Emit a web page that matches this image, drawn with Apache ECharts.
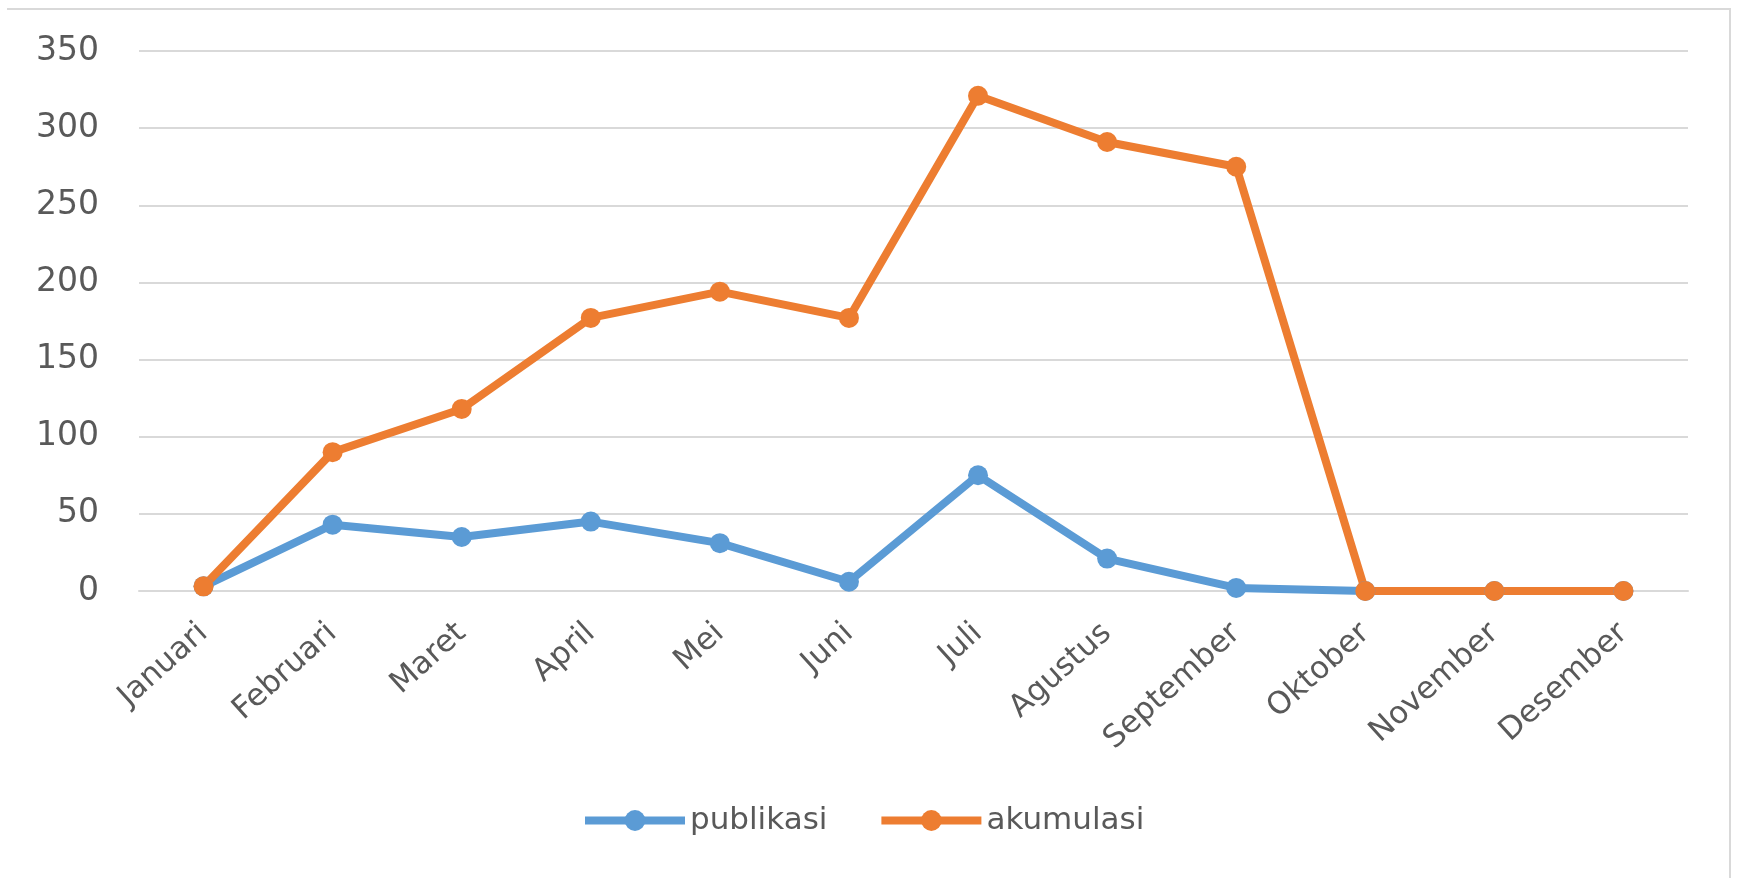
<!DOCTYPE html>
<html>
<head>
<meta charset="utf-8">
<script src="https://cdn.jsdelivr.net/npm/echarts@6/dist/echarts.min.js"></script>
<style>
html,body{margin:0;padding:0;background:#fff;}
#chart{width:1742px;height:878px;}
</style>
</head>
<body>
<div id="chart"></div>
<script>
const months = ['Januari','Februari','Maret','April','Mei','Juni','Juli','Agustus','September','Oktober','November','Desember'];
const publikasi = [3, 43, 35, 45, 31, 6, 75, 21, 2, 0, 0, 0];
const akumulasi = [3, 90, 118, 177, 194, 177, 321, 291, 275, 0, 0, 0];
const yTicks = [0, 50, 100, 150, 200, 250, 300, 350];

const chart = echarts.init(document.getElementById('chart'));
const font = 'DejaVu Sans';
chart.setOption({
  animation: false,
  backgroundColor: '#ffffff',
  graphic: [{
    type: 'polyline',
    shape: { points: [[7, 9], [1730, 9], [1730, 878]] },
    style: { stroke: '#d9d9d9', lineWidth: 2, fill: null },
    silent: true
  }],
  grid: { left: 139, right: 54, top: 51, bottom: 287, containLabel: false },
  xAxis: {
    type: 'category',
    data: months,
    boundaryGap: true,
    axisLine: { show: true, lineStyle: { color: '#d9d9d9', width: 2 } },
    axisTick: { show: false },
    axisLabel: {
      rotate: 42,
      margin: 38,
      interval: 0,
      color: '#595959',
      fontFamily: font,
      fontSize: 31
    },
    splitLine: { show: false }
  },
  yAxis: {
    type: 'value',
    min: yTicks[0],
    max: yTicks[yTicks.length - 1],
    interval: 50,
    axisLine: { show: false },
    axisTick: { show: false },
    axisLabel: {
      margin: 40,
      color: '#595959',
      fontFamily: font,
      fontSize: 33
    },
    splitLine: { lineStyle: { color: '#d9d9d9', width: 2 } }
  },
  legend: {
    left: 576,
    top: 800,
    itemWidth: 100,
    itemHeight: 26,
    itemGap: 50,
    lineStyle: { width: 8 },
    textStyle: { color: '#595959', fontFamily: font, fontSize: 31 },
    data: ['publikasi', 'akumulasi']
  },
  series: [
    {
      name: 'publikasi',
      type: 'line',
      data: publikasi,
      symbol: 'circle',
      symbolSize: 20,
      lineStyle: { color: '#5B9BD5', width: 8 },
      itemStyle: { color: '#5B9BD5' }
    },
    {
      name: 'akumulasi',
      type: 'line',
      data: akumulasi,
      symbol: 'circle',
      symbolSize: 20,
      lineStyle: { color: '#ED7D31', width: 8 },
      itemStyle: { color: '#ED7D31' }
    }
  ]
});
</script>
</body>
</html>
